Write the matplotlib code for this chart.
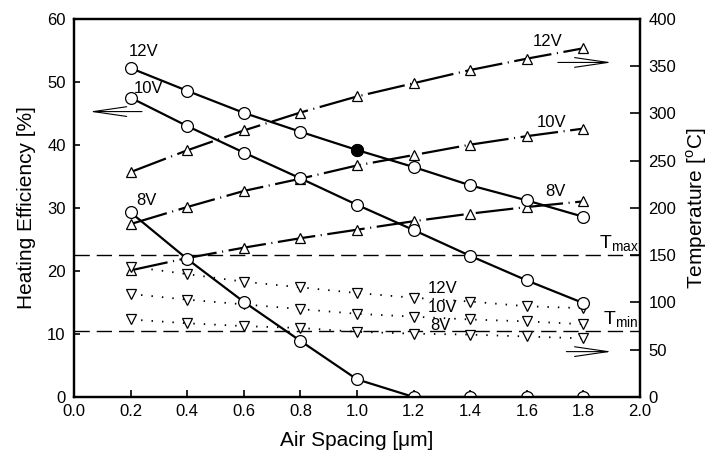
import matplotlib
matplotlib.use("Agg")
import matplotlib.pyplot as plt

plt.rcParams['font.family'] = ['Liberation Sans', 'DejaVu Sans']
plt.rcParams['mathtext.fontset'] = 'custom'
plt.rcParams['mathtext.rm'] = 'Liberation Sans'

spacing = [0.2, 0.4, 0.6, 0.8, 1.0, 1.2, 1.4, 1.6, 1.8]

# heating efficiency [%] (left axis)
eff_12v = [52.2, 48.6, 45.1, 42.1, 39.2, 36.5, 33.6, 31.2, 28.6]
eff_10v = [47.5, 43.0, 38.8, 34.7, 30.5, 26.5, 22.4, 18.5, 14.9]
eff_8v = [29.3, 21.9, 15.1, 8.9, 2.8, 0.0, 0.0, 0.0, 0.0]

# temperature [C] (right axis), upper and lower set
tup_12v = [238, 261, 282, 301, 318, 332, 346, 358, 369]
tup_10v = [183, 201, 218, 231, 245, 256, 267, 276, 284]
tup_8v = [134, 147, 158, 168, 177, 186, 194, 201, 207]

tdn_12v = [138, 130, 122, 116, 110, 105, 101, 96, 94]
tdn_10v = [109, 103, 98, 93, 88, 85, 82, 80, 77]
tdn_8v = [82, 78, 75, 73, 69, 67, 66, 64, 62]

t_max = 150
t_min = 70

fig = plt.figure(figsize=(7.09, 4.54), dpi=100)
ax = fig.add_axes([0.1044, 0.1256, 0.7983, 0.8326])
ax2 = ax.twinx()

# right axis curves
for t in [tup_12v, tup_10v, tup_8v]:
    ax2.plot(spacing, t, color='black', lw=1.6, dashes=(17, 2.5, 0.5, 2.5),
             marker='^', ms=7.5, mfc='white', mec='black', mew=0.9, zorder=2)
for t in [tdn_12v, tdn_10v, tdn_8v]:
    ax2.plot(spacing, t, color='black', lw=1.3, dashes=(0.8, 5),
             marker='v', ms=7.5, mfc='white', mec='black', mew=0.9, zorder=2)

ax2.axhline(t_max, color='black', lw=1.0, dashes=(11, 5), zorder=1)
ax2.axhline(t_min, color='black', lw=1.0, dashes=(11, 5), zorder=1)
ax2.text(1.995, t_max + 2, r'$\mathregular{T_{max}}$', ha='right', va='bottom', fontsize=14)
ax2.text(1.995, t_min + 2, r'$\mathregular{T_{min}}$', ha='right', va='bottom', fontsize=14)

# left axis curves
ax.set_zorder(ax2.get_zorder() + 1)
ax.patch.set_visible(False)
for e in [eff_12v, eff_10v, eff_8v]:
    ax.plot(spacing, e, color='black', lw=1.6, marker='o', ms=8.5,
            mfc='white', mec='black', mew=0.9)
ax.plot(spacing[4], eff_12v[4], 'o', ms=8.5, color='black')

# curve labels
fs = 12
ax.text(0.195, 54.8, '12V', fontsize=fs, va='center')
ax.text(0.21, 49.0, '10V', fontsize=fs, va='center')
ax.text(0.22, 31.2, '8V', fontsize=fs, va='center')
ax2.text(1.62, 376, '12V', fontsize=fs, va='center')
ax2.text(1.635, 290, '10V', fontsize=fs, va='center')
ax2.text(1.665, 217, '8V', fontsize=fs, va='center')
ax2.text(1.25, 115, '12V', fontsize=fs, va='center')
ax2.text(1.25, 95, '10V', fontsize=fs, va='center')
ax2.text(1.26, 76, '8V', fontsize=fs, va='center')

# arrows
arr = dict(arrowstyle='->,head_length=2.4,head_width=0.35', color='black', lw=0.8)
ax.annotate('', xy=(0.045, 45.3), xytext=(0.25, 45.3), arrowprops=arr)
ax2.annotate('', xy=(1.91, 354), xytext=(1.70, 354), arrowprops=arr)
ax2.annotate('', xy=(1.91, 48), xytext=(1.73, 48), arrowprops=arr)

ax.set_xlim(0, 2.0)
ax.set_ylim(0, 60)
ax2.set_ylim(0, 400)
ax.set_xticks([0.0, 0.2, 0.4, 0.6, 0.8, 1.0, 1.2, 1.4, 1.6, 1.8, 2.0])
ax.set_yticks([0, 10, 20, 30, 40, 50, 60])
ax2.set_yticks([0, 50, 100, 150, 200, 250, 300, 350, 400])

ax.tick_params(axis='x', direction='in', length=5, width=1.2, labelsize=12, pad=5)
ax.tick_params(axis='y', direction='in', length=4, width=1.2, labelsize=12, pad=6)
ax2.tick_params(axis='y', direction='in', length=7, width=1.2, labelsize=12, pad=6)

for a in (ax, ax2):
    for s in a.spines.values():
        s.set_linewidth(1.6)

ax.set_xlabel('Air Spacing [\u03bcm]', fontsize=15, labelpad=9)
ax.set_ylabel('Heating Efficiency [%]', fontsize=15, labelpad=8)
ax2.set_ylabel(r'Temperature [$^\mathregular{o}$C]', fontsize=15, labelpad=6)

fig.savefig('out.png', dpi=100)
